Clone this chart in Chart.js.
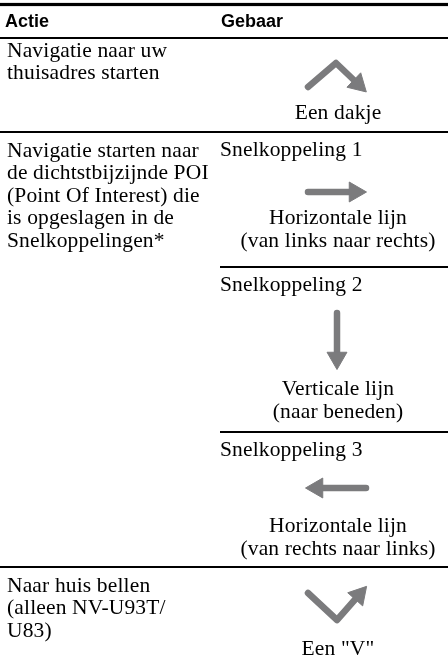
<!DOCTYPE html>
<html>
<head>
<meta charset="utf-8">
<script src="https://cdn.jsdelivr.net/npm/chart.js@4"></script>
<style>
  html, body { margin: 0; padding: 0; background: #fff; }
  canvas { display: block; }
</style>
</head>
<body>
<canvas id="myChart" width="448" height="656"></canvas>
<script>
// table content
var headers = ["Actie", "Gebaar"];
var actions = [
    ["Navigatie naar uw", "thuisadres starten"],
    ["Navigatie starten naar", "de dichtstbijzijnde POI", "(Point Of Interest) die", "is opgeslagen in de", "Snelkoppelingen*"],
    ["Naar huis bellen", "(alleen NV-U93T/", "U83)"]
];
var gestureTitles = [null, "Snelkoppeling 1", "Snelkoppeling 2", "Snelkoppeling 3", null];
var gestureCaptions = [
    ["Een dakje"],
    ["Horizontale lijn", "(van links naar rechts)"],
    ["Verticale lijn", "(naar beneden)"],
    ["Horizontale lijn", "(van rechts naar links)"],
    ["Een \"V\""]
];
// gesture strokes, in pixels relative to the gesture centre (last point = arrow head)
var roofStroke = [[-29, 10], [-1, -14], [21, 7]];
var rightStroke = [[-29, 0], [18, 0]];
var downStroke = [[0, -28], [0, 17]];
var leftStroke = [[29, 0], [-20, 0]];
var vStroke = [[-29, -11], [0, 16], [22, -9]];
var strokes = [roofStroke, rightStroke, downStroke, leftStroke, vStroke];

// layout
var leftX = 7;
var rightX = 220;
var gestureX = 337;
var captionX = 338;
var lineH = 22.5;
var cellTop = [38, 132, 267, 432, 567];
var gestureY = [77, 192, 341, 488, 604];
var captionY = [119, 224, 395, 532, 655];
var firstLine = [56.5, 156.5, 591.5];
var grey = "#7b7b7d";

var datasets = [];
strokes.forEach(function (s, i) {
    var pts = s.map(function (p) {
        return { x: gestureX + p[0], y: gestureY[i] + p[1] };
    });
    var a = pts[pts.length - 2], b = pts[pts.length - 1];
    var rot = Math.atan2(b.x - a.x, -(b.y - a.y)) * 180 / Math.PI;
    datasets.push({
        data: pts,
        showLine: true,
        borderColor: grey,
        backgroundColor: grey,
        borderWidth: 6.5,
        borderCapStyle: "round",
        borderJoinStyle: "round",
        tension: 0,
        pointStyle: "triangle",
        pointRadius: function (ctx) { return ctx.dataIndex === pts.length - 1 ? 11.5 : 0; },
        pointRotation: rot,
        pointBorderWidth: 1,
        pointBorderColor: grey,
        pointBackgroundColor: grey,
        clip: false
    });
});

var tablePlugin = {
    id: "table",
    beforeDatasetsDraw: function (chart) {
        var c = chart.ctx;
        var sx = chart.scales.x, sy = chart.scales.y;
        function px(v) { return sx.getPixelForValue(v); }
        function py(v) { return sy.getPixelForValue(v); }
        function rule(x0, y, w) {
            c.fillStyle = "#000";
            c.fillRect(px(x0), py(y) - w / 2, px(448) - px(x0), w);
        }
        c.save();
        rule(0, 4.5, 3.2);
        rule(0, cellTop[0], 2);
        rule(0, cellTop[1], 2);
        rule(rightX, cellTop[2], 2);
        rule(rightX, cellTop[3], 2);
        rule(0, cellTop[4], 2);

        c.fillStyle = "#000";
        c.textBaseline = "alphabetic";
        c.font = "bold 18px 'Liberation Sans', Arial, sans-serif";
        c.textAlign = "left";
        c.fillText(headers[0], px(leftX - 2), py(27));
        c.fillText(headers[1], px(rightX + 1), py(27));

        c.font = "21.5px 'Liberation Serif', 'Times New Roman', serif";
        c.letterSpacing = "0.15px";
        actions.forEach(function (lines, r) {
            lines.forEach(function (t, k) {
                c.fillText(t, px(leftX), py(firstLine[r] + k * lineH));
            });
        });
        gestureTitles.forEach(function (t, i) {
            if (t) c.fillText(t, px(rightX), py(cellTop[i] + 24));
        });
        c.textAlign = "center";
        gestureCaptions.forEach(function (lines, i) {
            lines.forEach(function (t, k) {
                c.fillText(t, px(captionX), py(captionY[i] + k * lineH));
            });
        });
        c.restore();
    }
};

new Chart("myChart", {
    type: "scatter",
    data: { datasets: datasets },
    options: {
        responsive: false,
        animation: false,
        layout: { padding: 0, autoPadding: false },
        scales: {
            x: { type: "linear", min: 0, max: 448, display: false },
            y: { type: "linear", min: 0, max: 656, reverse: true, display: false }
        },
        plugins: {
            legend: { display: false },
            tooltip: { enabled: false }
        }
    },
    plugins: [tablePlugin]
});
</script>
</body>
</html>
